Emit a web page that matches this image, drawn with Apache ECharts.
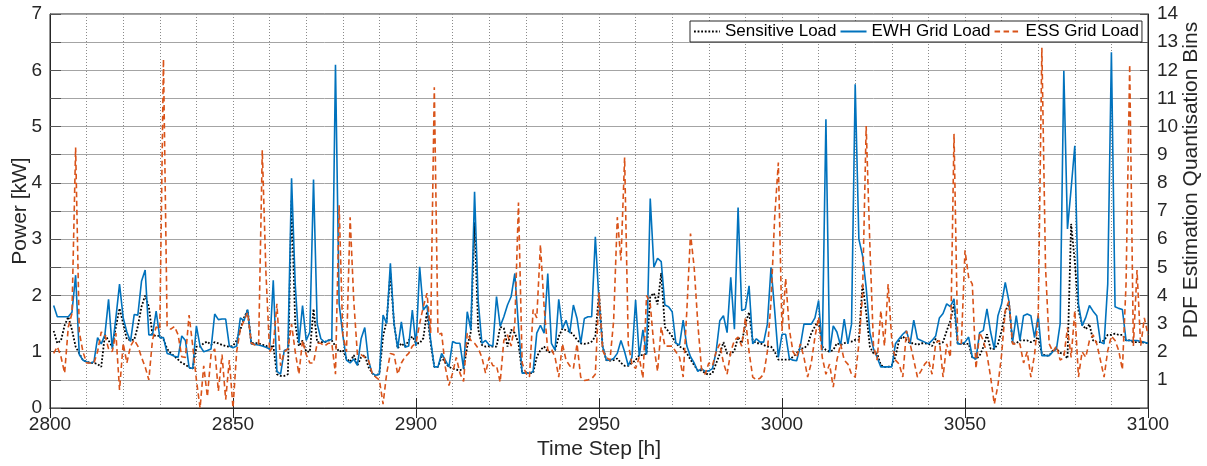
<!DOCTYPE html>
<html><head><meta charset="utf-8">
<script src="https://cdn.jsdelivr.net/npm/echarts@6/dist/echarts.min.js"></script>
<style>html,body{margin:0;padding:0;background:#fff}#c{width:1207px;height:466px}</style>
</head><body><div id="c"></div>
<script>
// Time steps run from 2801 to 3100 (one value per hour)
const firstStep = 2801;

const sensitiveLoad = [
1.37,1.15,1.2,1.47,1.62,1.39,1.09,0.97,0.85,0.82,
0.8,0.8,0.78,0.73,1.3,1.2,1.09,1.44,1.77,1.5,
1.22,1.21,1.21,1.45,1.8,2.0,1.8,1.3,1.28,1.28,
1.22,1.05,0.97,0.92,0.86,0.8,0.77,0.72,0.7,1.09,
1.09,1.15,1.18,1.12,1.17,1.15,1.12,1.1,1.09,1.1,
1.2,1.39,1.6,1.74,1.15,1.15,1.15,1.12,1.11,1.05,
1.12,0.6,0.57,0.57,0.6,3.7,1.5,1.1,1.2,1.0,
1.0,1.76,1.17,1.17,1.17,1.2,1.2,1.1,1.0,1.03,
0.88,0.82,0.94,0.76,0.9,0.94,0.73,0.62,0.56,0.62,
1.27,1.56,2.4,1.5,1.06,1.15,1.09,1.2,1.27,1.15,
1.15,1.24,1.71,1.15,0.73,0.73,0.91,0.8,0.73,0.7,
0.68,0.67,0.7,1.09,1.36,3.3,1.4,1.12,1.09,1.1,
1.09,1.09,1.44,1.42,1.09,1.39,1.33,1.15,0.62,0.62,
0.62,0.62,0.91,1.03,1.09,1.0,0.98,1.03,1.27,1.41,
1.38,1.36,1.3,1.21,1.15,1.14,1.15,1.18,1.27,2.05,
1.09,0.85,0.84,0.85,0.88,0.8,0.75,0.75,0.8,0.85,
0.94,0.94,0.97,1.98,2.04,1.84,2.4,1.44,1.36,1.27,
1.15,1.09,1.06,0.97,0.86,0.76,0.67,0.67,0.62,0.59,
0.62,0.79,0.96,1.17,0.97,0.95,1.02,1.26,1.15,1.5,
1.7,1.2,1.15,1.15,1.12,1.09,1.09,1.0,0.86,0.86,
0.86,0.86,0.91,0.97,1.06,1.06,1.12,1.33,1.45,1.56,
1.09,1.03,1.0,1.03,1.15,1.12,1.15,1.18,1.18,1.21,
1.21,2.2,1.7,1.09,0.97,0.97,0.76,0.73,0.73,0.76,
0.91,1.21,1.27,1.21,1.15,1.15,1.12,1.15,1.15,1.14,
1.1,1.23,1.14,1.17,1.37,1.55,1.85,1.14,1.14,1.14,
1.14,0.9,0.87,0.93,1.08,1.31,1.05,1.05,1.14,1.37,
1.7,1.88,1.14,1.15,1.2,1.2,1.2,1.17,1.2,1.26,
0.96,0.93,0.93,1.02,1.05,0.98,0.96,0.88,3.27,2.6,
1.73,1.49,1.4,1.49,1.2,1.17,1.17,1.2,1.3,1.3,
1.32,1.3,1.3,1.2,1.2,1.17,1.17,1.17,1.16,1.15
];

const ewhGridLoad = [
1.82,1.62,1.62,1.62,1.62,1.7,2.36,0.95,0.85,0.82,
0.8,0.82,1.25,1.14,1.3,1.93,1.05,1.6,2.2,1.6,
1.35,1.18,1.66,1.65,2.25,2.45,1.3,1.3,1.72,1.25,
1.25,0.97,0.95,0.92,0.9,1.28,1.2,0.72,0.7,1.46,
1.1,1.0,1.02,1.05,1.67,1.57,1.58,1.58,1.1,1.07,
1.1,1.6,1.55,1.75,1.14,1.13,1.12,1.1,1.08,1.05,
2.27,0.65,0.6,1.02,1.05,4.08,2.2,1.15,1.82,1.2,
1.35,4.06,1.5,1.23,1.17,1.2,1.22,6.1,1.85,1.3,
0.85,0.8,0.87,0.76,1.23,1.43,0.85,0.62,0.58,0.6,
1.65,1.5,2.57,1.5,1.06,1.53,1.08,1.1,1.74,1.1,
2.51,1.74,1.83,1.21,0.73,0.73,0.97,0.85,0.73,1.18,
1.15,1.15,0.7,1.71,1.39,3.84,1.9,1.15,1.2,1.12,
1.1,1.98,1.45,1.62,1.83,1.98,2.39,1.45,0.62,0.62,
0.62,0.65,1.33,1.47,1.33,2.39,1.15,1.03,1.93,1.41,
1.56,1.33,1.83,1.59,1.15,1.59,1.62,1.62,3.04,1.9,
1.09,0.85,0.85,0.88,0.97,1.2,1.0,0.75,0.9,1.92,
0.92,1.39,0.95,3.72,2.5,2.66,2.6,1.83,1.8,1.71,
1.15,1.12,1.56,1.1,0.91,0.8,0.65,0.7,0.65,0.66,
0.7,1.0,1.55,1.64,1.34,2.32,1.4,3.56,1.73,1.76,
2.17,1.14,1.23,1.17,1.17,1.49,2.5,1.73,0.9,1.31,
1.31,0.88,0.85,0.84,1.1,1.49,1.49,1.49,1.6,1.91,
1.02,5.13,0.99,1.46,1.35,1.11,1.58,1.14,1.49,5.75,
3.0,2.71,2.14,1.34,1.05,0.9,0.73,0.73,0.73,0.73,
1.14,1.23,1.31,1.37,1.14,1.56,1.23,1.2,1.17,1.14,
1.2,1.28,1.6,1.68,1.85,1.8,1.94,1.14,1.14,1.17,
1.26,0.9,0.87,1.34,1.38,1.76,1.35,1.05,1.64,1.85,
2.23,1.9,1.17,1.64,1.2,1.64,1.67,1.64,1.25,1.64,
0.93,0.93,0.93,1.0,1.05,1.5,5.99,3.18,3.9,4.66,
1.85,1.46,1.61,1.82,1.72,1.64,1.17,1.14,2.2,6.32,
1.8,1.77,1.75,1.2,1.2,1.2,1.2,1.18,1.17,1.15
];

const essGridLoad = [
0.97,1.09,0.91,0.62,1.44,1.68,4.63,1.35,1.0,0.8,
0.8,0.8,1.0,1.35,1.3,1.05,1.0,1.33,0.32,1.15,
0.8,1.1,1.21,1.1,0.9,0.73,0.5,1.21,1.44,1.4,
6.2,1.45,1.4,1.45,1.3,0.91,0.9,1.65,1.1,0.5,
0.0,0.75,0.2,0.95,1.05,0.3,0.95,0.15,0.85,0.0,
1.0,1.4,1.55,1.7,1.15,1.12,1.12,4.58,2.4,1.0,
1.1,1.85,0.75,1.0,1.05,1.49,1.0,0.6,1.2,0.95,
0.8,0.8,1.15,1.15,1.1,1.15,1.15,0.6,3.6,1.3,
1.0,3.39,1.9,0.94,0.95,0.9,0.85,0.62,0.55,0.5,
0.07,0.62,0.97,0.95,0.6,0.8,0.91,0.97,1.1,1.15,
1.5,1.8,2.04,1.33,5.7,1.3,1.33,0.73,0.4,0.62,
0.9,0.62,0.47,1.33,1.2,1.15,1.06,0.9,0.62,0.9,
0.75,0.75,0.46,1.2,1.3,1.1,1.5,3.65,0.8,0.62,
0.55,1.75,1.6,2.9,1.8,1.02,1.05,0.9,0.55,1.14,
0.85,0.75,0.7,1.14,0.55,0.49,0.5,0.52,0.6,2.05,
1.02,0.9,0.85,1.55,3.39,2.62,4.45,1.14,0.78,0.7,
0.9,0.53,2.0,1.85,1.1,0.65,1.44,1.1,1.1,1.1,
1.0,0.9,0.55,1.73,3.1,2.5,1.5,0.7,0.6,0.8,
0.75,1.0,1.14,0.8,0.6,1.0,1.2,1.26,1.1,1.6,
1.0,0.55,0.5,0.53,0.6,1.0,1.9,3.39,4.36,1.37,
2.3,1.4,1.0,0.9,1.14,0.9,0.55,0.8,1.26,1.61,
0.9,0.6,0.78,0.37,0.85,1.14,0.85,0.78,0.6,0.55,
1.14,2.0,5.01,2.91,1.1,0.85,1.73,1.1,2.2,1.2,
0.85,0.78,0.55,1.37,1.14,0.85,0.55,0.66,0.78,0.85,
0.6,1.15,1.2,0.55,1.14,0.9,4.87,1.2,1.14,2.8,
2.32,2.2,0.7,1.34,1.2,0.95,0.55,0.07,0.4,0.95,
1.73,1.9,1.14,1.14,1.14,0.8,1.0,0.55,0.95,1.6,
6.4,2.5,1.14,1.0,1.1,0.85,0.9,1.43,0.9,1.73,
0.55,1.0,0.9,1.2,1.3,1.14,0.85,0.55,1.02,1.28,
1.2,1.02,0.68,2.2,6.1,1.1,2.45,1.1,1.6,1.3
];

const seriesNames = ['Sensitive Load', 'EWH Grid Load', 'ESS Grid Load'];
const xRange = [2800, 3100];
const leftRange = [0, 7];
const rightRange = [0, 14];
const leftAxisTitle = 'Power [kW]';
const rightAxisTitle = 'PDF Estimation Quantisation Bins';

function pairs(arr) { return arr.map((v, i) => [firstStep + i, v]); }

const FONT = 'Liberation Sans, Arial, Helvetica, sans-serif';
const TITLE_FONT = '21px "Liberation Sans", Arial, sans-serif';
const AX = '#262626';

const chart = echarts.init(document.getElementById('c'), null, { renderer: 'canvas' });
const dotted = { type: [1, 2], color: '#8a8a8a', width: 1 };

chart.setOption({
  animation: false,
  backgroundColor: '#ffffff',
  textStyle: { fontFamily: FONT },
  grid: { left: 50, right: 59, top: 14, bottom: 58, containLabel: false, outerBoundsMode: 'none',
          show: true, borderColor: AX, borderWidth: 1, backgroundColor: '#fff' },
  legend: {
    data: seriesNames,
    left: 690, top: 21,
    itemWidth: 26, itemHeight: 15, itemGap: 3,
    padding: [2, 3, 2, 3],
    backgroundColor: '#fff', borderColor: AX, borderWidth: 1,
    itemStyle: { opacity: 0 },
    textStyle: { fontSize: 17, color: '#000', fontFamily: FONT },
    selectedMode: false
  },
  graphic: [{
    type: 'text', x: 20, y: 211, rotation: Math.PI / 2, silent: true,
    style: { text: leftAxisTitle, font: TITLE_FONT, fill: AX, align: 'center', verticalAlign: 'middle' }
  }, {
    type: 'text', x: 1191, y: 180, rotation: Math.PI / 2, silent: true,
    style: { text: rightAxisTitle, font: TITLE_FONT, fill: AX, align: 'center', verticalAlign: 'middle' }
  }],
  xAxis: [{
    type: 'value', min: xRange[0], max: xRange[1], interval: 50, position: 'bottom',
    axisLine: { show: true, lineStyle: { color: AX, width: 1 } },
    axisTick: { show: true, inside: true, length: 10, lineStyle: { color: AX } },
    axisLabel: { fontSize: 19, color: AX, margin: 7, fontFamily: FONT, formatter: v => String(v) },
    splitLine: { show: true, lineStyle: dotted },
    minorTick: { show: false, splitNumber: 5 },
    minorSplitLine: { show: true, lineStyle: dotted },
    name: 'Time Step [h]', nameLocation: 'middle', nameGap: 31,
    nameTextStyle: { fontSize: 21, color: AX, fontFamily: FONT }
  }, {
    type: 'value', min: xRange[0], max: xRange[1], interval: 50, position: 'top',
    axisLine: { show: true, lineStyle: { color: AX, width: 1 } },
    axisTick: { show: true, inside: true, length: 10, lineStyle: { color: AX } },
    axisLabel: { show: false }, splitLine: { show: false }
  }],
  yAxis: [{
    type: 'value', min: leftRange[0], max: leftRange[1], interval: 1, position: 'left',
    axisLine: { show: true, lineStyle: { color: AX } },
    axisTick: { show: true, inside: true, length: 11, lineStyle: { color: '#555' } },
    minorTick: { show: true, splitNumber: 2, length: 11, lineStyle: { color: '#555' } },
    axisLabel: { fontSize: 19, color: AX, margin: 8, fontFamily: FONT },
    splitLine: { show: false }
  }, {
    type: 'value', min: rightRange[0], max: rightRange[1], interval: 1, position: 'right',
    axisLine: { show: true, lineStyle: { color: AX } },
    axisTick: { show: true, inside: true, length: 8, lineStyle: { color: '#555' } },
    axisLabel: { fontSize: 19, color: AX, margin: 9, fontFamily: FONT, formatter: v => (v === 0 ? '' : String(v)) },
    splitLine: { show: true, lineStyle: { color: '#a4a4a4', width: 1 } }
  }],
  series: [{
    name: seriesNames[0], type: 'line', data: pairs(sensitiveLoad), xAxisIndex: 0, yAxisIndex: 0,
    symbol: 'none', showSymbol: false,
    lineStyle: { color: '#000000', width: 1.8, type: [1.8, 1.8] }, itemStyle: { color: '#000000' }
  }, {
    name: seriesNames[1], type: 'line', data: pairs(ewhGridLoad), xAxisIndex: 0, yAxisIndex: 0,
    symbol: 'none', showSymbol: false,
    lineStyle: { color: '#0072BD', width: 1.6 }, itemStyle: { color: '#0072BD' }
  }, {
    name: seriesNames[2], type: 'line', data: pairs(essGridLoad), xAxisIndex: 0, yAxisIndex: 0,
    symbol: 'none', showSymbol: false,
    lineStyle: { color: '#D95319', width: 1.6, type: [5.5, 3.5] }, itemStyle: { color: '#D95319' }
  }]
});
</script>
</body></html>
